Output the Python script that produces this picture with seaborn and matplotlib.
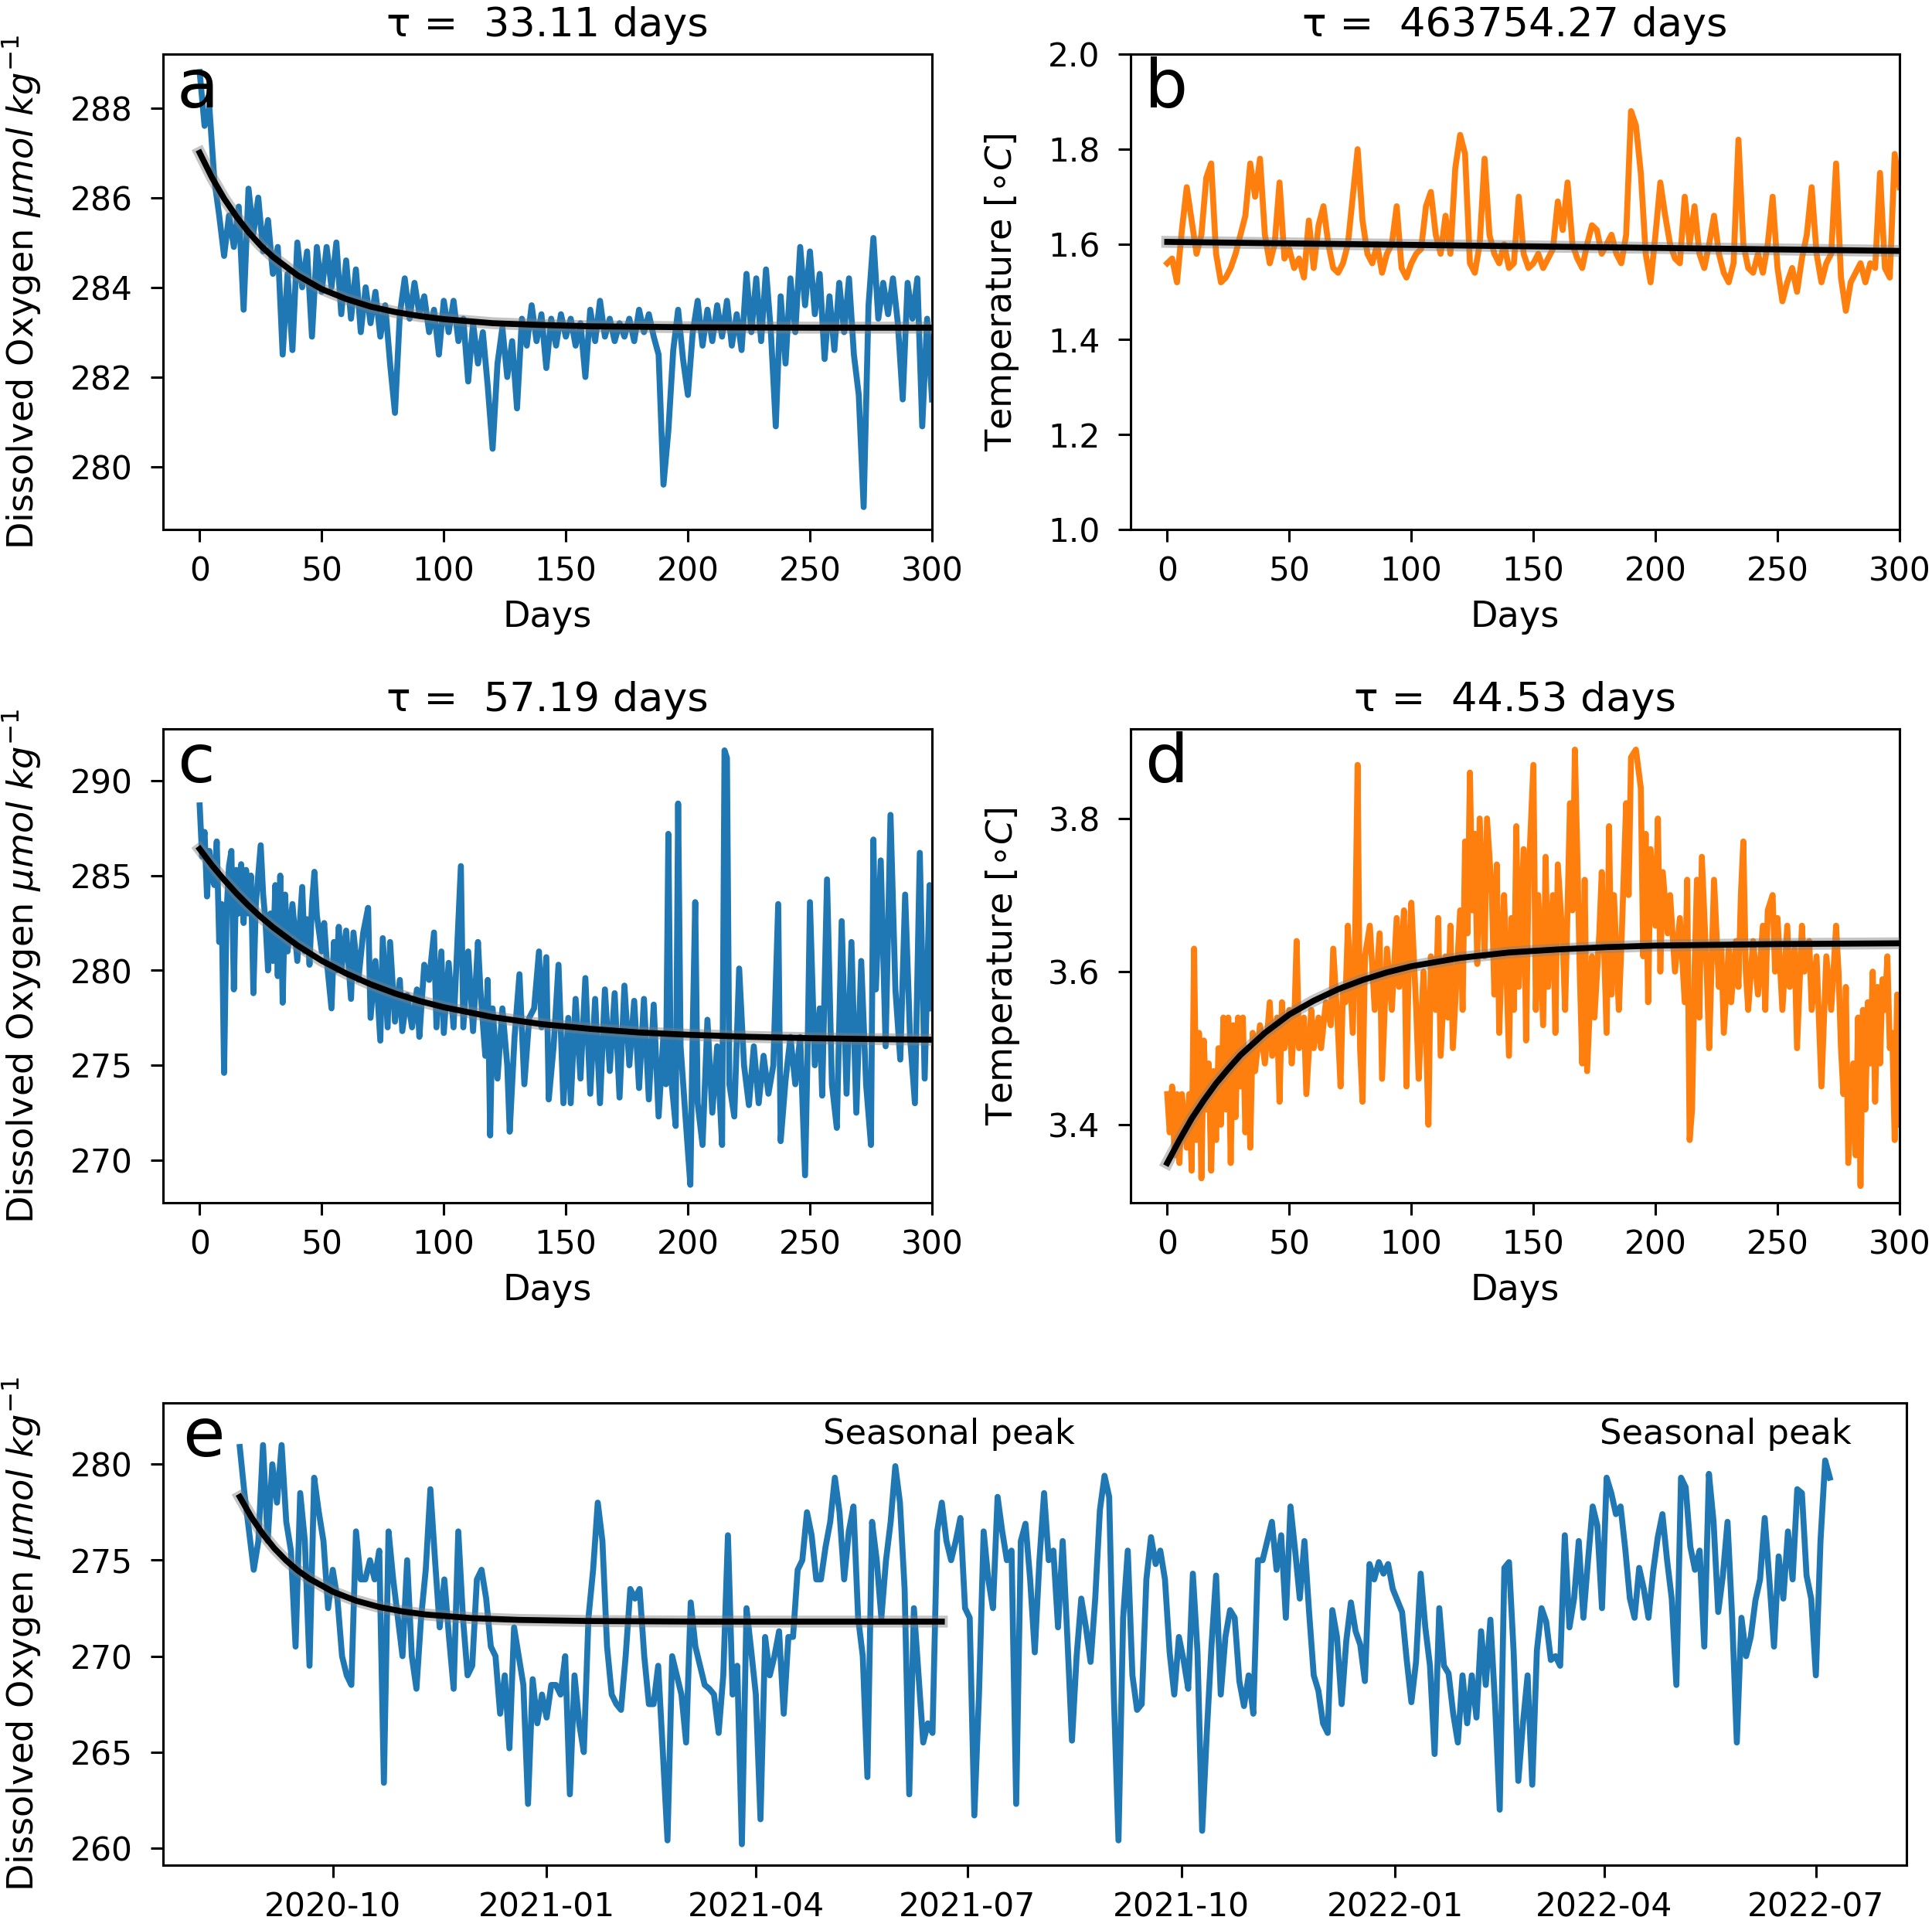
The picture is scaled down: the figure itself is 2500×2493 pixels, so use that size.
import numpy as np
import pandas as pd
import matplotlib
matplotlib.use("Agg")
import matplotlib.pyplot as plt
import matplotlib.dates as mdates
from matplotlib.ticker import MultipleLocator
import seaborn as sns

BLUE = "#1f77b4"
ORANGE = "#ff7f0e"

# ---- panel a: oxygen, every 2 days from day 0 ----
a_oxy = [
    288.8, 287.6, 288.0, 286.4, 285.6, 284.7, 285.6, 284.9, 285.8, 283.5,
    286.2, 285.2, 286.0, 284.8, 285.5, 284.3, 284.9, 282.5, 284.3, 282.6,
    285.0, 284.0, 284.8, 282.9, 284.9, 283.9, 284.9, 284.0, 285.0, 283.4,
    284.6, 283.3, 284.4, 283.0, 284.0, 283.2, 283.9, 282.9, 283.6, 282.3,
    281.2, 283.4, 284.2, 283.3, 284.1, 283.4, 283.8, 283.0, 283.5, 282.5,
    283.7, 283.0, 283.7, 282.8, 283.3, 281.9, 283.2, 282.3, 283.0, 281.8,
    280.4, 282.3, 283.1, 282.0, 282.8, 281.3, 283.3, 282.7, 283.6, 282.8,
    283.4, 282.2, 283.3, 282.7, 283.4, 282.9, 283.3, 282.7, 283.2, 282.0,
    283.5, 282.8, 283.7, 282.9, 283.3, 282.8, 283.2, 282.9, 283.3, 282.8,
    283.5, 283.0, 283.4, 282.9, 282.5, 279.6, 280.8, 282.6, 283.5, 282.4,
    281.6, 283.0, 283.7, 282.7, 283.5, 282.8, 283.6, 282.9, 283.7, 282.7,
    283.4, 282.6, 284.3, 283.0, 284.2, 282.8, 284.4, 283.0, 280.9, 283.8,
    282.3, 284.2, 283.0, 284.9, 283.6, 284.8, 283.4, 284.3, 282.4, 283.8,
    282.6, 284.1, 283.0, 284.2, 282.5, 281.6, 279.1, 283.6, 285.1, 283.3,
    284.1, 283.4, 284.2, 283.2, 281.5, 284.1, 283.3, 284.2, 280.9, 283.3,
    281.5,
]
a_fit_days = [0, 5, 10, 15, 20, 25, 30, 40, 50, 60, 70, 80, 90, 100, 120, 140, 160, 200, 250, 300]
a_fit = [287.0, 286.45, 285.98, 285.58, 285.23, 284.93, 284.68, 284.27, 283.96, 283.74,
         283.57, 283.45, 283.36, 283.29, 283.2, 283.16, 283.13, 283.11, 283.1, 283.1]

# ---- panel b: temperature, every 2 days from day 0 ----
b_temp = [
    1.56, 1.57, 1.52, 1.63, 1.72, 1.65, 1.58, 1.62, 1.74, 1.77,
    1.58, 1.52, 1.53, 1.55, 1.58, 1.62, 1.66, 1.77, 1.70, 1.78,
    1.62, 1.56, 1.60, 1.73, 1.57, 1.59, 1.55, 1.57, 1.53, 1.65,
    1.55, 1.64, 1.68, 1.60, 1.55, 1.54, 1.56, 1.60, 1.70, 1.80,
    1.65, 1.58, 1.56, 1.60, 1.54, 1.58, 1.60, 1.68, 1.55, 1.53,
    1.56, 1.58, 1.59, 1.68, 1.71, 1.62, 1.58, 1.66, 1.58, 1.76,
    1.83, 1.79, 1.56, 1.54, 1.60, 1.78, 1.62, 1.58, 1.56, 1.60,
    1.55, 1.56, 1.70, 1.58, 1.55, 1.56, 1.58, 1.55, 1.57, 1.59,
    1.69, 1.63, 1.73, 1.60, 1.57, 1.55, 1.60, 1.64, 1.63, 1.58,
    1.60, 1.62, 1.58, 1.56, 1.62, 1.88, 1.85, 1.75, 1.58, 1.52,
    1.62, 1.73, 1.66, 1.60, 1.57, 1.56, 1.70, 1.60, 1.68, 1.58,
    1.55, 1.60, 1.66, 1.58, 1.54, 1.52, 1.56, 1.82, 1.60, 1.55,
    1.54, 1.58, 1.54, 1.60, 1.70, 1.55, 1.48, 1.52, 1.55, 1.50,
    1.57, 1.62, 1.72, 1.58, 1.52, 1.56, 1.58, 1.77, 1.53, 1.46,
    1.52, 1.54, 1.56, 1.52, 1.56, 1.55, 1.75, 1.55, 1.53, 1.79,
    1.72,
]
b_fit_days = [0, 300]
b_fit = [1.605, 1.586]

# ---- panel c: oxygen (day, value) ----
c_obs = [
    (0, 288.7), (1, 286.0), (2, 287.3), (3, 283.9), (4, 286.3), (5, 285.0), (6, 284.5),
    (7, 286.8), (8, 281.5), (9, 283.5), (10, 274.6), (11, 283.0), (12, 285.5), (13, 286.3),
    (14, 279.0), (15, 285.3), (16, 283.0), (17, 285.6), (18, 282.5), (19, 285.3), (20, 283.0),
    (21, 285.0), (22, 278.8), (23, 283.5), (25, 286.6), (26, 284.0), (27, 282.5), (28, 280.0),
    (29, 283.0), (30, 280.5), (31, 284.5), (32, 279.7), (33, 285.0), (34, 278.3), (35, 284.0),
    (36, 281.0), (38, 283.5), (40, 280.5), (42, 284.4), (43, 281.0), (44, 282.7), (45, 280.3),
    (46, 283.5), (47, 285.2), (48, 282.9), (50, 281.0), (51, 282.5), (52, 280.6), (54, 278.0),
    (55, 281.5), (56, 280.0), (57, 282.3), (58, 280.0), (60, 282.1), (62, 278.5), (63, 282.0),
    (65, 279.5), (67, 282.0), (69, 283.3), (70, 277.5), (72, 280.5), (74, 276.3), (75, 281.7),
    (77, 277.0), (78, 281.5), (80, 277.3), (82, 279.5), (83, 276.8), (85, 278.7), (87, 277.0),
    (89, 279.0), (90, 276.5), (92, 280.3), (94, 279.5), (96, 282.0), (97, 277.0), (99, 281.0),
    (100, 276.7), (102, 280.4), (104, 277.0), (107, 285.5), (108, 277.0), (110, 281.0),
    (112, 276.8), (114, 281.5), (115, 279.0), (117, 275.5), (118, 279.5), (119, 271.3),
    (120, 278.0), (122, 274.3), (124, 278.0), (126, 275.0), (127, 271.5), (129, 276.5),
    (131, 279.8), (133, 274.0), (135, 277.5), (137, 278.0), (139, 281.0), (140, 277.0),
    (142, 280.7), (143, 273.2), (145, 276.0), (147, 280.3), (149, 273.0), (151, 277.5),
    (152, 273.0), (154, 278.5), (156, 274.3), (158, 279.6), (160, 273.5), (162, 278.5),
    (164, 273.0), (166, 279.0), (168, 274.7), (170, 278.8), (172, 273.3), (174, 279.2),
    (176, 275.0), (178, 278.4), (180, 273.8), (182, 278.5), (184, 273.2), (186, 278.2),
    (188, 272.3), (190, 276.6), (191, 274.0), (192, 287.2), (193, 274.5), (195, 271.8),
    (196, 288.8), (197, 276.0), (199, 272.3), (201, 268.7), (202, 277.0), (203, 283.6),
    (204, 273.0), (206, 270.8), (208, 277.4), (210, 272.5), (212, 276.0), (214, 270.8),
    (215, 291.6), (216, 291.2), (217, 274.0), (219, 272.3), (221, 280.1), (223, 275.0),
    (225, 272.9), (227, 276.0), (229, 273.0), (231, 275.5), (233, 273.5), (235, 275.0),
    (237, 283.5), (238, 271.0), (240, 274.2), (242, 276.5), (244, 274.0), (246, 276.5),
    (248, 269.2), (249, 275.5), (250, 283.6), (252, 275.0), (254, 278.0), (255, 273.4),
    (257, 284.8), (259, 274.0), (261, 271.7), (263, 282.6), (265, 273.5), (267, 281.5),
    (269, 272.5), (271, 280.5), (273, 274.0), (275, 270.8), (276, 286.9), (277, 279.0),
    (279, 285.8), (281, 276.0), (283, 288.2), (285, 279.0), (287, 275.3), (289, 284.0),
    (291, 276.5), (293, 273.0), (295, 286.2), (297, 274.3), (299, 284.5), (300, 278.0),
]
c_fit_days = [0, 5, 10, 15, 20, 25, 30, 40, 50, 60, 70, 80, 90, 100, 120, 140, 160, 180, 200, 225, 250, 275, 300]
c_fit = [286.4, 285.55, 284.78, 284.07, 283.42, 282.82, 282.28, 281.32, 280.51, 279.84, 279.27, 278.79,
         278.39, 278.06, 277.54, 277.17, 276.92, 276.73, 276.61, 276.5, 276.43, 276.38, 276.35]

# ---- panel d: temperature (day, value) ----
d_obs = [
    (0, 3.44), (1, 3.39), (2, 3.45), (3, 3.36), (4, 3.44), (5, 3.35), (6, 3.44), (8, 3.37),
    (9, 3.44), (10, 3.34), (11, 3.63), (12, 3.38), (13, 3.52), (14, 3.33), (15, 3.51),
    (16, 3.42), (17, 3.48), (18, 3.34), (19, 3.47), (20, 3.38), (21, 3.50), (22, 3.40),
    (23, 3.54), (24, 3.42), (25, 3.54), (26, 3.35), (27, 3.53), (28, 3.41), (29, 3.54),
    (30, 3.45), (31, 3.54), (32, 3.39), (33, 3.50), (34, 3.37), (35, 3.52), (36, 3.47),
    (38, 3.53), (40, 3.48), (42, 3.56), (43, 3.49), (45, 3.54), (46, 3.43), (47, 3.56),
    (48, 3.50), (50, 3.55), (51, 3.48), (52, 3.53), (53, 3.64), (54, 3.50), (56, 3.54),
    (57, 3.44), (59, 3.55), (60, 3.50), (62, 3.54), (63, 3.50), (65, 3.56), (67, 3.53),
    (68, 3.63), (70, 3.52), (71, 3.45), (72, 3.58), (73, 3.56), (74, 3.66), (76, 3.52),
    (77, 3.65), (78, 3.87), (79, 3.50), (80, 3.43), (81, 3.62), (83, 3.66), (85, 3.55),
    (87, 3.65), (88, 3.46), (90, 3.63), (92, 3.55), (94, 3.67), (95, 3.58), (97, 3.68),
    (98, 3.45), (99, 3.62), (100, 3.69), (102, 3.55), (103, 3.46), (105, 3.60), (106, 3.52),
    (107, 3.40), (108, 3.62), (110, 3.55), (111, 3.67), (112, 3.49), (114, 3.62), (115, 3.54),
    (116, 3.66), (117, 3.50), (119, 3.62), (120, 3.68), (121, 3.55), (122, 3.77), (123, 3.65),
    (124, 3.86), (125, 3.68), (126, 3.78), (127, 3.61), (128, 3.80), (130, 3.62), (131, 3.80),
    (133, 3.70), (134, 3.57), (135, 3.74), (136, 3.52), (137, 3.62), (138, 3.70), (140, 3.49),
    (141, 3.67), (142, 3.55), (143, 3.79), (144, 3.58), (146, 3.76), (147, 3.51), (148, 3.72),
    (150, 3.87), (151, 3.55), (152, 3.70), (154, 3.53), (155, 3.75), (156, 3.58), (158, 3.70),
    (159, 3.52), (160, 3.74), (162, 3.64), (163, 3.55), (165, 3.82), (166, 3.68), (167, 3.89),
    (168, 3.75), (169, 3.60), (170, 3.48), (171, 3.72), (172, 3.47), (174, 3.62), (175, 3.54),
    (177, 3.65), (178, 3.73), (180, 3.52), (181, 3.79), (182, 3.57), (183, 3.70), (185, 3.55),
    (186, 3.63), (188, 3.82), (189, 3.70), (190, 3.88), (192, 3.89), (194, 3.84), (195, 3.62),
    (196, 3.78), (197, 3.56), (198, 3.76), (200, 3.66), (201, 3.80), (202, 3.60), (203, 3.73),
    (205, 3.65), (206, 3.70), (208, 3.60), (210, 3.67), (212, 3.56), (213, 3.72), (214, 3.38),
    (215, 3.42), (216, 3.60), (217, 3.72), (218, 3.54), (219, 3.75), (221, 3.60), (222, 3.50),
    (224, 3.72), (226, 3.58), (227, 3.63), (228, 3.52), (230, 3.63), (231, 3.56), (233, 3.64),
    (234, 3.58), (235, 3.70), (236, 3.77), (237, 3.60), (238, 3.55), (240, 3.64), (242, 3.57),
    (244, 3.66), (245, 3.55), (246, 3.68), (248, 3.70), (249, 3.60), (250, 3.67), (252, 3.55),
    (254, 3.66), (255, 3.58), (257, 3.63), (258, 3.50), (260, 3.66), (261, 3.60), (263, 3.64),
    (264, 3.55), (266, 3.62), (268, 3.45), (270, 3.62), (272, 3.55), (274, 3.66), (275, 3.60),
    (276, 3.50), (277, 3.44), (278, 3.58), (279, 3.35), (281, 3.48), (282, 3.36), (283, 3.54),
    (284, 3.32), (285, 3.55), (286, 3.42), (287, 3.56), (288, 3.48), (289, 3.60), (290, 3.43),
    (291, 3.58), (292, 3.48), (293, 3.59), (294, 3.55), (295, 3.62), (296, 3.50), (297, 3.52),
    (298, 3.38), (299, 3.57), (300, 3.40),
]
d_fit_days = [0, 5, 10, 15, 20, 25, 30, 40, 50, 60, 70, 80, 90, 100, 120, 140, 160, 180, 200, 250, 300]
d_fit = [3.350, 3.380, 3.408, 3.432, 3.454, 3.473, 3.491, 3.520, 3.544, 3.562, 3.577,
         3.589, 3.599, 3.607, 3.618, 3.625, 3.629, 3.632, 3.634, 3.636, 3.637]

# ---- panel e: long oxygen record, every 2 days from 2020-08-22 ----
e_start = "2020-08-22"
e_oxy = [
    280.9, 278.5, 276.5, 274.5, 276.0, 281.0, 276.0, 280.0, 278.0, 281.0,
    277.0, 275.5, 270.5, 278.5, 276.0, 269.5, 279.3, 277.5, 276.0, 272.5,
    274.5, 273.0, 270.0, 269.0, 268.5, 276.5, 274.0, 274.0, 275.0, 274.0,
    275.5, 263.4, 276.5, 274.0, 272.0, 270.0, 275.0, 270.0, 268.3, 272.0,
    274.5, 278.7, 275.0, 271.5, 274.0, 271.0, 268.3, 276.5, 272.0, 269.0,
    269.5, 274.0, 274.5, 273.0, 270.5, 270.0, 267.0, 269.0, 265.2, 271.5,
    270.0, 268.5, 262.3, 268.8, 266.5, 268.0, 266.8, 268.5, 268.5, 268.0,
    270.0, 262.8, 269.0, 266.5, 265.0, 272.0, 274.5, 278.0, 276.0, 270.5,
    268.0, 267.5, 267.2, 270.0, 273.5, 273.0, 273.5, 270.0, 267.5, 267.5,
    269.5, 265.0, 260.4, 270.0, 269.0, 268.0, 265.5, 272.8, 270.5, 269.5,
    268.5, 268.3, 268.0, 266.0, 269.0, 276.3, 268.0, 269.5, 260.2, 272.5,
    270.3, 268.0, 261.5, 271.0, 269.0, 270.0, 271.3, 267.0, 271.0, 271.0,
    274.5, 275.0, 277.5, 276.3, 274.0, 274.0, 275.7, 277.0, 279.3, 277.5,
    274.0, 276.5, 277.8, 272.0, 270.0, 263.7, 277.0, 275.0, 272.0, 275.0,
    277.0, 279.9, 278.0, 273.5, 262.8, 272.5, 269.0, 265.5, 266.5, 266.0,
    276.5, 278.0, 276.0, 275.0, 276.0, 277.2, 272.5, 272.0, 261.7, 268.0,
    276.5, 274.0, 272.5, 278.3, 276.5, 275.0, 275.5, 262.3, 276.0, 276.9,
    274.0, 270.2, 275.0, 278.5, 275.0, 275.5, 271.5, 276.0, 271.0, 265.6,
    270.0, 273.0, 271.5, 269.7, 273.0, 277.6, 279.4, 278.3, 268.0, 260.4,
    272.0, 275.5, 269.0, 267.2, 267.5, 274.0, 276.2, 274.8, 275.5, 274.0,
    270.2, 268.0, 271.0, 269.8, 268.3, 274.3, 270.2, 260.9, 266.0, 270.5,
    274.2, 268.0, 271.0, 272.4, 272.0, 268.7, 267.4, 269.0, 267.0, 275.0,
    275.0, 276.0, 277.0, 274.5, 276.3, 272.0, 277.8, 275.5, 273.0, 276.0,
    272.3, 269.0, 268.2, 266.5, 266.0, 272.4, 271.0, 267.5, 270.8, 272.8,
    271.3, 270.6, 268.7, 274.8, 274.0, 274.9, 274.3, 274.8, 273.5, 272.9,
    272.3, 269.8, 267.6, 269.7, 274.3, 271.5, 269.5, 264.9, 272.5, 269.5,
    269.1, 267.0, 265.5, 269.0, 266.5, 269.0, 266.8, 271.3, 268.5, 271.9,
    267.5, 262.0, 274.6, 274.9, 270.2, 263.5, 266.5, 269.0, 263.3, 270.3,
    272.5, 271.8, 269.8, 270.0, 269.5, 276.3, 271.5, 273.0, 276.0, 272.0,
    275.0, 277.8, 276.8, 272.5, 279.3, 278.5, 277.4, 277.8, 275.6, 273.0,
    272.0, 274.6, 273.5, 272.0, 274.4, 276.2, 277.4, 275.0, 273.0, 268.5,
    279.3, 278.8, 275.7, 274.5, 275.5, 270.5, 279.5, 277.0, 272.3, 274.2,
    277.0, 272.0, 265.5, 272.0, 270.0, 271.0, 272.9, 274.0, 277.2, 274.0,
    270.5, 275.2, 273.0, 276.5, 274.0, 278.7, 278.5, 274.2, 273.0, 269.0,
    276.0, 280.2, 279.3,
]
e_fit_days = [0, 5, 10, 15, 20, 25, 30, 40, 50, 60, 70, 80, 100, 120, 150, 200, 250, 302]
e_fit = [278.3, 277.24, 276.35, 275.6, 274.98, 274.46, 274.03, 273.36, 272.89, 272.56,
         272.33, 272.17, 271.98, 271.89, 271.83, 271.8, 271.8, 271.8]
e_notes = [("2021-06-23", "Seasonal peak"), ("2022-05-23", "Seasonal peak")]

titles = ["τ =  33.11 days", "τ =  463754.27 days", "τ =  57.19 days", "τ =  44.53 days"]
oxy_label = r"Dissolved Oxygen $\mu mol\ kg^{-1}$"
temp_label = r"Temperature [$\circ C$]"

plt.rcParams["font.family"] = ["DejaVu Sans"]
plt.rcParams["mathtext.fontset"] = "dejavusans"
plt.rcParams["xtick.major.size"] = 4.2
plt.rcParams["ytick.major.size"] = 4.2
plt.rcParams["xtick.major.pad"] = 4.5
plt.rcParams["ytick.major.pad"] = 6

DATA_LW = 2.0
TICK_FS = 11
LABEL_FS = 12
TITLE_FS = 13.6
LETTER_FS = 23

fig = plt.figure(figsize=(9, 8.975), dpi=277.78)
ax_a = fig.add_axes([0.0844, 0.7252, 0.398, 0.2467])
ax_b = fig.add_axes([0.5852, 0.7252, 0.398, 0.2467])
ax_c = fig.add_axes([0.0844, 0.3758, 0.398, 0.2459])
ax_d = fig.add_axes([0.5852, 0.3758, 0.398, 0.2459])
ax_e = fig.add_axes([0.0844, 0.032, 0.9024, 0.240])


def draw_fit(ax, x, y):
    sns.lineplot(x=x, y=y, ax=ax, color="grey", lw=4, alpha=0.45, zorder=3)
    sns.lineplot(x=x, y=y, ax=ax, color="black", lw=2, zorder=4)


def panel(ax, days, vals, color, fit_x, fit_y, letter, title, ylabel, ylim):
    sns.lineplot(x=days, y=vals, ax=ax, color=color, lw=DATA_LW, estimator=None, zorder=2)
    draw_fit(ax, fit_x, fit_y)
    ax.set_xlim(-15, 300)
    ax.set_ylim(*ylim)
    ax.set_title(title, fontsize=TITLE_FS)
    ax.set_xlabel("Days", fontsize=LABEL_FS)
    ax.set_ylabel(ylabel, fontsize=LABEL_FS, labelpad=9)
    ax.text(0.018, 0.995, letter, transform=ax.transAxes, ha="left", va="top", fontsize=LETTER_FS)
    ax.tick_params(labelsize=TICK_FS)


a_days = np.arange(len(a_oxy)) * 2
b_days = np.arange(len(b_temp)) * 2
c_days = [p[0] for p in c_obs]
c_oxy = [p[1] for p in c_obs]
d_days = [p[0] for p in d_obs]
d_temp = [p[1] for p in d_obs]

panel(ax_a, a_days, a_oxy, BLUE, a_fit_days, a_fit, "a", titles[0], oxy_label, (278.6, 289.2))
panel(ax_b, b_days, b_temp, ORANGE, b_fit_days, b_fit, "b", titles[1], temp_label, (1.0, 2.0))
panel(ax_c, c_days, c_oxy, BLUE, c_fit_days, c_fit, "c", titles[2], oxy_label, (267.75, 292.73))
panel(ax_d, d_days, d_temp, ORANGE, d_fit_days, d_fit, "d", titles[3], temp_label, (3.298, 3.917))
ax_d.yaxis.set_major_locator(MultipleLocator(0.2))

# panel e with dates
t0 = pd.Timestamp(e_start)
e_dates = t0 + pd.to_timedelta(np.arange(len(e_oxy)) * 2, unit="D")
e_fit_dates = t0 + pd.to_timedelta(e_fit_days, unit="D")
sns.lineplot(x=e_dates, y=e_oxy, ax=ax_e, color=BLUE, lw=DATA_LW, estimator=None, zorder=2)
draw_fit(ax_e, e_fit_dates, e_fit)
ax_e.set_xlim(pd.Timestamp("2020-07-20"), pd.Timestamp("2022-08-09"))
ax_e.set_ylim(259.1, 283.2)
ax_e.xaxis.set_major_locator(mdates.MonthLocator(bymonth=[1, 4, 7, 10]))
ax_e.xaxis.set_major_formatter(mdates.DateFormatter("%Y-%m"))
ax_e.set_xlabel("")
ax_e.set_ylabel(oxy_label, fontsize=LABEL_FS, labelpad=9)
ax_e.tick_params(labelsize=TICK_FS)
ax_e.text(0.011, 0.995, "e", transform=ax_e.transAxes, ha="left", va="top", fontsize=LETTER_FS)
for d, txt in e_notes:
    ax_e.text(pd.Timestamp(d), 281.55, txt, ha="center", va="center", fontsize=11.6)

fig.savefig("out.png", dpi=277.78)
